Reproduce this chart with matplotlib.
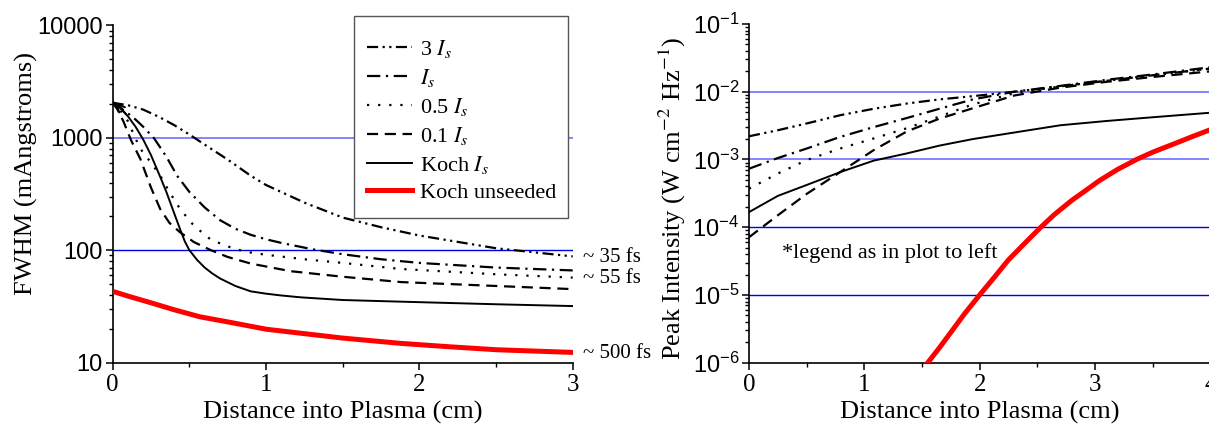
import numpy as np
import matplotlib
matplotlib.use("Agg")
import matplotlib.pyplot as plt
from matplotlib.patches import Rectangle
from matplotlib.ticker import LogLocator, FixedLocator, FuncFormatter, NullFormatter

plt.rcParams['font.family'] = ['Liberation Serif', 'DejaVu Serif']
plt.rcParams['mathtext.fontset'] = 'custom'
plt.rcParams['mathtext.rm'] = 'Liberation Sans'
plt.rcParams['mathtext.it'] = 'Liberation Sans:italic'

# ---------------- data: left panel (FWHM, mAngstroms) ----------------
x_3is = [0, 0.1, 0.2, 0.3, 0.4, 0.5, 0.6, 0.75, 0.9, 1.0, 1.25, 1.5, 1.75, 2.0, 2.5, 3.0]
y_3is = [2050, 1950, 1780, 1540, 1300, 1070, 870, 640, 460, 380, 265, 195, 160, 135, 104, 88]

x_is = [0, 0.05, 0.1, 0.15, 0.2, 0.27, 0.35, 0.42, 0.5, 0.6, 0.7, 0.8, 0.9, 1.0, 1.1, 1.3, 1.5, 1.75, 2.0, 2.5, 3.0]
y_is = [2050, 1850, 1650, 1450, 1250, 990, 680, 460, 330, 240, 185, 155, 137, 125, 116, 102, 92, 83, 77, 70, 66]

x_05is = [0, 0.05, 0.1, 0.14, 0.18, 0.25, 0.31, 0.37, 0.44, 0.53, 0.64, 0.75, 0.86, 1.0, 1.25, 1.5, 1.88, 2.5, 3.0]
y_05is = [2050, 1750, 1400, 1050, 800, 600, 461, 330, 232, 165, 124, 108, 97, 91, 83, 77, 68, 61, 57]

x_01is = [0, 0.03, 0.07, 0.12, 0.18, 0.25, 0.31, 0.37, 0.44, 0.53, 0.64, 0.75, 0.9, 1.16, 1.5, 1.88, 2.5, 3.0]
y_01is = [2050, 1800, 1400, 950, 650, 360, 232, 175, 144, 118, 100, 87, 76, 65, 58, 52, 48, 45]

x_koch = [0, 0.05, 0.1, 0.15, 0.2, 0.25, 0.31, 0.35, 0.4, 0.44, 0.47, 0.5, 0.55, 0.6, 0.65, 0.7, 0.8, 0.9, 1.0, 1.1, 1.23, 1.5, 1.88, 2.5, 3.0]
y_koch = [2100, 1850, 1550, 1250, 960, 700, 449, 330, 215, 153, 120, 100, 82, 70, 62, 56, 48, 43, 41, 39.5, 38, 36, 34.8, 33, 31.8]

x_unseed = [0, 0.1, 0.25, 0.4, 0.57, 0.75, 1.0, 1.23, 1.5, 1.88, 2.2, 2.5, 3.0]
y_unseed = [43, 39, 34, 29.5, 25.5, 23, 19.8, 18.2, 16.5, 14.8, 13.8, 13.0, 12.3]

# ---------------- data: right panel (peak intensity) ----------------
xr = [0, 0.25, 0.5, 0.79, 1.08, 1.37, 1.65, 1.94, 2.3, 2.7, 3.1, 3.5, 4.0]
r_3is = [2.2e-3, 2.7e-3, 3.4e-3, 4.5e-3, 5.6e-3, 6.7e-3, 7.7e-3, 8.6e-3, 1.0e-2, 1.2e-2, 1.45e-2, 1.75e-2, 2.2e-2]
r_is = [7.3e-4, 1.05e-3, 1.45e-3, 2.15e-3, 3.0e-3, 4.1e-3, 5.6e-3, 7.7e-3, 1.0e-2, 1.22e-2, 1.5e-2, 1.8e-2, 2.3e-2]
r_05is = [3.7e-4, 6.2e-4, 9.8e-4, 1.45e-3, 2.04e-3, 2.9e-3, 4.3e-3, 6.5e-3, 9.5e-3, 1.2e-2, 1.45e-2, 1.75e-2, 2.2e-2]
r_01is = [7.1e-5, 1.5e-4, 3.1e-4, 6.5e-4, 1.37e-3, 2.6e-3, 4.0e-3, 5.7e-3, 8.8e-3, 1.15e-2, 1.4e-2, 1.65e-2, 2.0e-2]
r_koch = [1.67e-4, 2.9e-4, 4.2e-4, 6.5e-4, 9.6e-4, 1.23e-3, 1.6e-3, 2.0e-3, 2.5e-3, 3.2e-3, 3.7e-3, 4.2e-3, 4.9e-3]
xr_unseed = [1.45, 1.55, 1.65, 1.75, 1.87, 2.0, 2.13, 2.25, 2.4, 2.53, 2.65, 2.8, 2.9, 3.04, 3.2, 3.36, 3.5, 3.7, 3.85, 4.0]
r_unseed = [6e-7, 1e-6, 1.65e-6, 2.8e-6, 5.3e-6, 1e-5, 1.85e-5, 3.3e-5, 6.0e-5, 1e-4, 1.55e-4, 2.5e-4,
            3.3e-4, 4.9e-4, 7.2e-4, 1e-3, 1.28e-3, 1.74e-3, 2.2e-3, 2.75e-3]

labels = [r'3 $I_s$', r'$I_s$', r'0.5 $I_s$', r'0.1 $I_s$', r'Koch $I_s$', 'Koch unseeded']
annot = ['~ 35 fs', '~ 55 fs', '~ 500 fs']

styles = [(0, (5, 2, 1, 2, 1, 2)), (0, (6, 2.5, 1, 2.5)), (0, (1, 4)), (0, (5, 3)), '-', '-']
colors = ['k', 'k', 'k', 'k', 'k', '#ff0000']
lws = [1.6, 1.6, 1.6, 1.6, 1.4, 3.6]

W, H = 1209, 424
fig = plt.figure(figsize=(W / 100, H / 100), dpi=100)
ax1 = fig.add_axes([0.0932, 0.1450, 0.3805, 0.7950])
ax2 = fig.add_axes([0.6195, 0.1446, 0.3816, 0.7988])

light_blue = '#7b7bff'
dark_blue = '#0000e6'

# ---------- left panel ----------
ax1.set_yscale('log')
ax1.set_xlim(0, 3)
ax1.set_ylim(10, 10000)
ax1.axhline(1000, color=light_blue, lw=1.3, zorder=1)
ax1.axhline(100, color=dark_blue, lw=1.0, zorder=1)
left_series = [(x_3is, y_3is), (x_is, y_is), (x_05is, y_05is), (x_01is, y_01is),
               (x_koch, y_koch), (x_unseed, y_unseed)]
handles = []
for (xs, ys), ls, c, lw, lab in zip(left_series, styles, colors, lws, labels):
    h, = ax1.plot(xs, ys, ls=ls, color=c, lw=lw, label=lab, zorder=3)
    handles.append(h)
ax1.annotate('', xy=(0.005, 2150), xytext=(0.1, 1550),
             arrowprops=dict(arrowstyle='->', color='k', lw=1.4, mutation_scale=14), zorder=4)

ax1.set_xlabel('Distance into Plasma (cm)', fontsize=19, labelpad=4)
ax1.set_ylabel('FWHM (mAngstroms)', fontsize=19)
ax1.yaxis.set_label_coords(-0.162, 0.562)

# legend frame (drawn separately so its padding matches the reference)
frame = Rectangle((354 / W, 1 - 218 / H), 214 / W, 202 / H, transform=fig.transFigure,
                  facecolor='white', edgecolor='#555555', lw=1.0, zorder=4, clip_on=False)
ax1.add_patch(frame)
leg = ax1.legend(handles=handles, loc='upper left', bbox_to_anchor=(367 / W, 1 - 38 / H),
                 bbox_transform=fig.transFigure,
                 fontsize=16, frameon=False,
                 handlelength=2.03, handletextpad=0.36, labelspacing=0.31,
                 borderpad=0, borderaxespad=0)
leg.set_zorder(5)
for t in leg.get_texts():
    t.set_math_fontfamily('stix')

ann_y = [86, 56, 12.1]
for txt, yv in zip(annot, ann_y):
    ax1.text(3.066, yv, txt, fontsize=15, va='center', ha='left', clip_on=False)

# ---------- right panel ----------
ax2.set_yscale('log')
ax2.set_xlim(0, 4)
ax2.set_ylim(1e-6, 1e-1)
for yv, c, lw in [(1e-2, light_blue, 1.3), (1e-3, light_blue, 1.3), (1e-4, dark_blue, 1.0), (1e-5, dark_blue, 1.0)]:
    ax2.axhline(yv, color=c, lw=lw, zorder=1)
right_series = [(xr, r_3is), (xr, r_is), (xr, r_05is), (xr, r_01is), (xr, r_koch), (xr_unseed, r_unseed)]
for (xs, ys), ls, c, lw in zip(right_series, styles, colors, lws):
    ax2.plot(xs, ys, ls=ls, color=c, lw=lw, zorder=3)
ax2.text(0.29, 4.2e-5, '*legend as in plot to left', fontsize=16, va='center', ha='left')
ax2.set_xlabel('Distance into Plasma (cm)', fontsize=19, labelpad=4)
yl = ax2.set_ylabel(r'Peak Intensity (W cm$^{-2}$ Hz$^{-1}$)', fontsize=19)
yl.set_math_fontfamily('stix')
ax2.yaxis.set_label_coords(-0.132, 0.486)

for ax, xt in [(ax1, [0, 1, 2, 3]), (ax2, [0, 1, 2, 3, 4])]:
    ax.spines['top'].set_visible(False)
    ax.spines['right'].set_visible(False)
    ax.spines['left'].set_linewidth(1.2)
    ax.spines['bottom'].set_linewidth(1.2)
    ax.xaxis.set_major_locator(FixedLocator(xt))
    ax.xaxis.set_minor_locator(FixedLocator([v + 0.5 for v in xt[:-1]]))
    ax.yaxis.set_major_locator(LogLocator(base=10, numticks=20))
    ax.yaxis.set_minor_locator(LogLocator(base=10, subs=np.arange(2, 10), numticks=20))
    ax.yaxis.set_minor_formatter(NullFormatter())
    ax.tick_params(axis='both', which='major', direction='out', length=5, width=1.1)
    ax.tick_params(axis='both', which='minor', direction='out', length=3, width=1.0)
    ax.tick_params(axis='x', labelsize=18, pad=3)
    ax.tick_params(axis='y', labelsize=17, pad=2)

ax1.yaxis.set_major_formatter(FuncFormatter(lambda v, p: f'{int(round(v))}'))
ax2.yaxis.set_major_formatter(FuncFormatter(lambda v, p: r'10$^{%d}$' % int(round(np.log10(v)))))
for ax in (ax1, ax2):
    for lab in ax.get_yticklabels():
        lab.set_family('Liberation Sans')

fig.savefig('out.png', dpi=100)
